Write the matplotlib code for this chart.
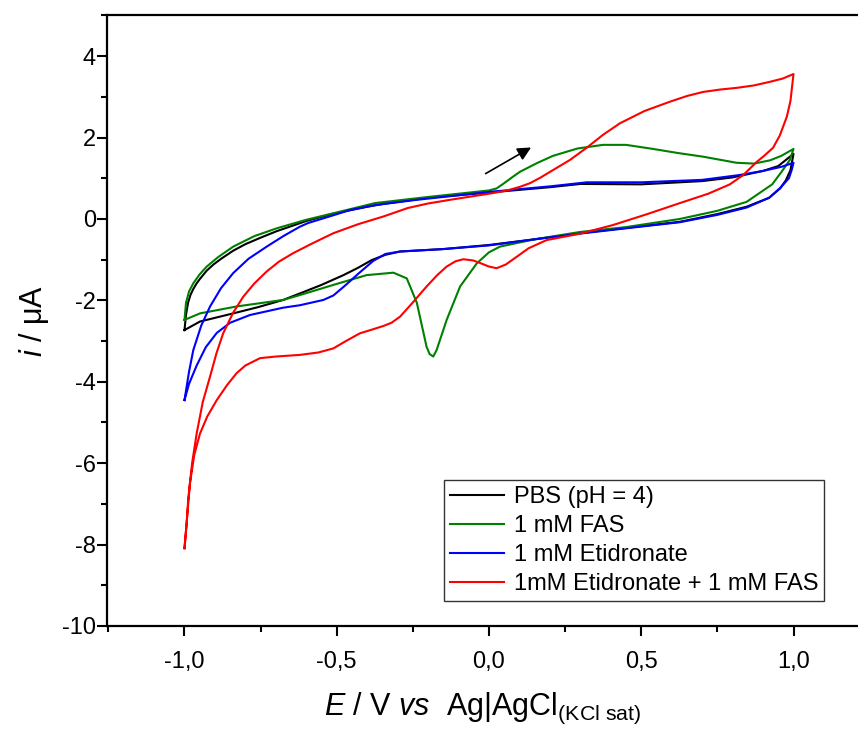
import matplotlib; matplotlib.use('Agg')
import matplotlib.pyplot as plt
from matplotlib.ticker import MultipleLocator, FuncFormatter

plt.rcParams.update({
    'font.family': ['Liberation Sans', 'DejaVu Sans'],
    'mathtext.fontset': 'custom',
    'mathtext.rm': 'Liberation Sans',
    'mathtext.it': 'Liberation Sans:italic',
})

# ---- data (E / V, i / uA), forward then reverse ----
pbs_E = [-1.0, -0.995, -0.988, -0.98, -0.971, -0.96, -0.949, -0.927, -0.905, -0.88,
         -0.84, -0.8, -0.75, -0.697, -0.6, -0.511, -0.4, -0.347, -0.2, 0.0, 0.2, 0.3,
         0.5, 0.7, 0.8, 0.9, 0.95, 1.0,
         0.99, 0.975, 0.956, 0.92, 0.846, 0.75, 0.627, 0.45, 0.299, 0.15, 0.0, -0.15,
         -0.292, -0.34, -0.385, -0.43, -0.478, -0.55, -0.621, -0.676, -0.76, -0.84,
         -0.949, -1.0]
pbs_I = [-2.73, -2.35, -2.05, -1.86, -1.72, -1.58, -1.47, -1.27, -1.12, -0.98,
         -0.78, -0.62, -0.46, -0.30, -0.05, 0.13, 0.3, 0.37, 0.52, 0.65, 0.78, 0.86,
         0.85, 0.93, 1.02, 1.18, 1.3, 1.6,
         1.2, 0.95, 0.75, 0.52, 0.30, 0.12, -0.07, -0.22, -0.35, -0.50, -0.64, -0.74,
         -0.80, -0.88, -1.01, -1.2, -1.38, -1.62, -1.83, -1.99, -2.17, -2.32,
         -2.52, -2.73]

fas_E = [-1.0, -0.995, -0.985, -0.971, -0.95, -0.927, -0.89, -0.84, -0.77, -0.697,
         -0.6, -0.5, -0.374, -0.2, 0.0, 0.025, 0.05,
         0.079, 0.102, 0.157, 0.21, 0.29, 0.374, 0.45, 0.539, 0.62, 0.703, 0.813, 0.87,
         0.923, 0.96, 1.0,
         0.988, 0.96, 0.93, 0.846, 0.75, 0.627, 0.45, 0.299, 0.15, 0.036, 0.0, -0.04,
         -0.095, -0.139, -0.172, -0.183, -0.195, -0.205, -0.237, -0.27, -0.314,
         -0.402, -0.511, -0.621, -0.676, -0.829, -0.949, -1.0]
fas_I = [-2.48, -2.06, -1.78, -1.58, -1.36, -1.17, -0.94, -0.68, -0.42, -0.23,
         -0.02, 0.16, 0.39, 0.54, 0.70, 0.75, 0.88,
         1.04, 1.16, 1.37, 1.55, 1.73, 1.82, 1.82, 1.72, 1.62, 1.53, 1.38, 1.36,
         1.44, 1.55, 1.72,
         1.45, 1.15, 0.85, 0.42, 0.20, 0.0, -0.2, -0.32, -0.5, -0.68, -0.82, -1.09,
         -1.66, -2.48, -3.22, -3.38, -3.32, -3.14, -2.06, -1.46, -1.32,
         -1.38, -1.62, -1.87, -1.99, -2.15, -2.32, -2.48]

eti_E = [-1.0, -0.985, -0.971, -0.945, -0.916, -0.88, -0.84, -0.79, -0.73, -0.675,
         -0.621, -0.594, -0.52, -0.456, -0.374, -0.237, 0.009, 0.2, 0.321, 0.5, 0.7,
         0.824, 0.9, 0.96, 1.0,
         0.994, 0.985, 0.956, 0.92, 0.846, 0.75, 0.627, 0.45, 0.299, 0.15, 0.0,
         -0.15, -0.292, -0.34, -0.38, -0.43, -0.47, -0.511, -0.544, -0.621, -0.676,
         -0.785, -0.85, -0.894, -0.93, -0.96, -0.985, -1.0]
eti_I = [-4.45, -3.75, -3.22, -2.62, -2.15, -1.7, -1.33, -0.98, -0.68, -0.42,
         -0.19, -0.10, 0.07, 0.22, 0.34, 0.47, 0.67, 0.80, 0.90, 0.90, 0.96,
         1.08, 1.18, 1.28, 1.38,
         1.2, 1.0, 0.76, 0.52, 0.28, 0.10, -0.08, -0.23, -0.36, -0.50, -0.65,
         -0.74, -0.80, -0.86, -1.03, -1.35, -1.62, -1.88, -1.99, -2.12, -2.18,
         -2.36, -2.55, -2.80, -3.15, -3.6, -4.05, -4.45]

mix_E = [-1.0, -0.993, -0.988, -0.975, -0.96, -0.94, -0.916, -0.895, -0.873, -0.84,
         -0.807, -0.77, -0.73, -0.69, -0.643, -0.58, -0.511, -0.43, -0.347, -0.266,
         -0.2, -0.128, -0.06, 0.009, 0.06, 0.102, 0.135, 0.17, 0.21, 0.266, 0.321,
         0.375, 0.43, 0.51, 0.594, 0.65, 0.703, 0.76, 0.813, 0.87, 0.923, 0.965, 1.0,
         0.99, 0.978, 0.955, 0.933, 0.905, 0.879, 0.835, 0.791, 0.72, 0.627, 0.52,
         0.407, 0.3, 0.189, 0.13, 0.091, 0.055, 0.025, 0.0, -0.03, -0.052, -0.084,
         -0.11, -0.139, -0.17, -0.205, -0.25, -0.292, -0.32, -0.347, -0.385, -0.424,
         -0.47, -0.511, -0.56, -0.621, -0.7, -0.752, -0.8, -0.829, -0.86, -0.894,
         -0.925, -0.949, -0.968, -0.982, -1.0]
mix_I = [-8.09, -7.5, -6.9, -6.0, -5.27, -4.5, -3.87, -3.3, -2.81, -2.3,
         -1.91, -1.58, -1.29, -1.05, -0.84, -0.6, -0.35, -0.13, 0.06, 0.27,
         0.38, 0.47, 0.55, 0.63, 0.7, 0.79, 0.88, 1.02, 1.2, 1.45, 1.75,
         2.07, 2.35, 2.65, 2.88, 3.02, 3.12, 3.18, 3.22, 3.28, 3.37, 3.45, 3.56,
         2.9, 2.51, 2.05, 1.75, 1.56, 1.40, 1.08, 0.85, 0.62, 0.39, 0.12,
         -0.15, -0.36, -0.52, -0.72, -0.93, -1.12, -1.21, -1.17, -1.08, -1.02, -0.99,
         -1.04, -1.17, -1.38, -1.66, -2.05, -2.40, -2.55, -2.63, -2.72, -2.81,
         -3.0, -3.18, -3.28, -3.34, -3.38, -3.42, -3.6, -3.79, -4.08, -4.45,
         -4.85, -5.27, -5.8, -6.49, -8.09]

labels = ['PBS (pH = 4)', '1 mM FAS', '1 mM Etidronate', '1mM Etidronate + 1 mM FAS']
colors = ['black', '#008000', '#0000ff', '#ff0000']

fig = plt.figure(figsize=(8.58, 7.29), dpi=100)
ax = fig.add_axes([0.1247, 0.1413, 0.8753, 0.8381])

series = [(pbs_E, pbs_I), (fas_E, fas_I), (eti_E, eti_I), (mix_E, mix_I)]
for (E, I), lab, c in zip(series, labels, colors):
    ax.plot(E, I, color=c, lw=1.5, label=lab, solid_joinstyle='round')

# scan direction arrow
ax.annotate('', xy=(0.146, 1.79), xytext=(-0.019, 1.08),
            arrowprops=dict(arrowstyle='-|>', color='black', lw=1.2, mutation_scale=20))

ax.set_xlim(-1.2545, 1.2118)
ax.set_ylim(-10, 5.01)
ax.xaxis.set_major_locator(MultipleLocator(0.5))
ax.xaxis.set_minor_locator(MultipleLocator(0.25))
ax.yaxis.set_major_locator(MultipleLocator(2))
ax.yaxis.set_minor_locator(MultipleLocator(1))
ax.xaxis.set_major_formatter(FuncFormatter(lambda v, p: f'{v:.1f}'.replace('.', ',')))
ax.yaxis.set_major_formatter(FuncFormatter(lambda v, p: f'{v:.0f}'))
ax.tick_params(which='major', direction='out', length=7, width=1.5, labelsize=17)
ax.tick_params(axis='x', which='major', pad=11)
ax.tick_params(axis='y', which='major', pad=1)
ax.tick_params(which='minor', direction='out', length=4, width=1.5)
ax.tick_params(top=False, right=False)

for s in ['left', 'bottom', 'top']:
    ax.spines[s].set_linewidth(1.6)
ax.spines['right'].set_visible(False)

ax.set_xlabel(r'$\it{E}$ / V $\it{vs}$  Ag|$\mathrm{AgCl}_{\mathrm{(KCl\ sat)}}$', fontsize=22, labelpad=13)
ax.set_ylabel(r'$\it{i}$ / $\mathrm{\mu}$A', fontsize=22, labelpad=8)

leg = ax.legend(loc='lower right', bbox_to_anchor=(0.955, 0.041), borderaxespad=0,
                fontsize=17, frameon=True, fancybox=False, handlelength=2.3,
                handletextpad=0.4, labelspacing=0.3, borderpad=0.25)
leg.get_frame().set_edgecolor('black')
leg.get_frame().set_linewidth(1.0)

fig.savefig('out.png', dpi=100)
